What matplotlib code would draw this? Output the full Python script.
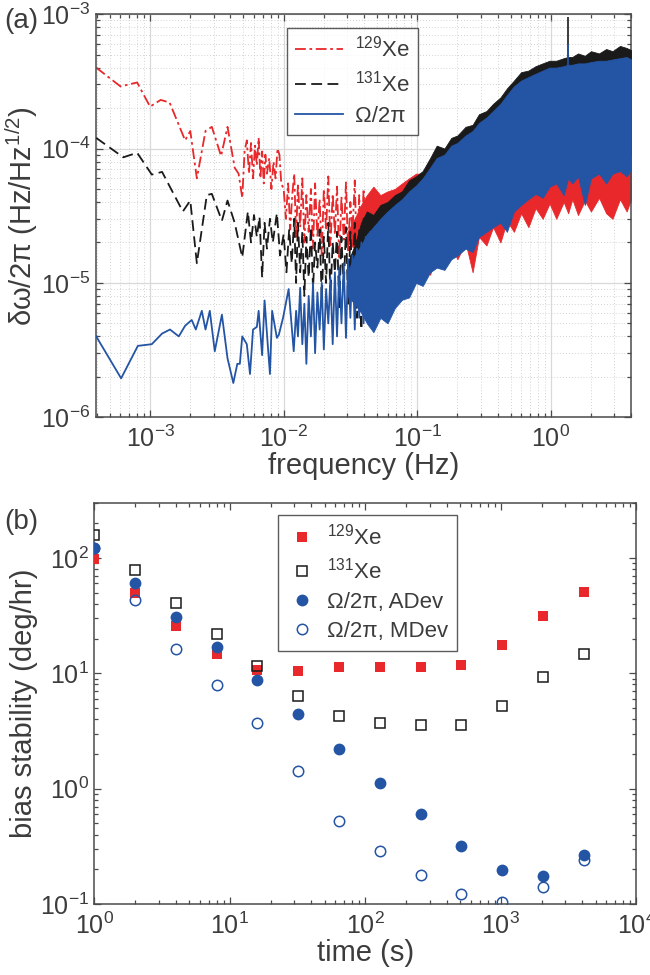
import numpy as np
import matplotlib
matplotlib.use('Agg')
import matplotlib.pyplot as plt
from matplotlib.ticker import LogLocator, NullFormatter

plt.rcParams['font.family'] = ['Liberation Sans', 'DejaVu Sans']
plt.rcParams['mathtext.fontset'] = 'custom'
plt.rcParams['mathtext.rm'] = 'Liberation Sans'
plt.rcParams['mathtext.it'] = 'Liberation Sans:italic'
plt.rcParams['mathtext.bf'] = 'Liberation Sans:bold'

RED = '#e8282b'
BLUE = '#2455a5'
BLK = '#1a1a1a'
TXT = '#3c3c3c'

# ---------------- panel (a): noise spectral density ----------------
# low-frequency part, read point by point
f_xe129 = [3.95e-4, 6.0e-4, 8.0e-4, 1.0e-3, 1.2e-3, 1.4e-3, 1.83e-3, 2.0e-3, 2.24e-3, 2.6e-3,
           2.9e-3, 3.4e-3, 3.8e-3, 4.3e-3, 4.6e-3, 4.9e-3, 5.1e-3, 5.3e-3, 5.5e-3, 5.7e-3,
           5.9e-3, 6.1e-3, 6.3e-3, 6.5e-3, 6.7e-3, 6.9e-3, 7.1e-3, 7.3e-3, 7.5e-3, 7.8e-3,
           8.1e-3, 8.4e-3, 8.7e-3, 9.0e-3, 9.3e-3, 9.6e-3, 1.0e-2, 1.04e-2, 1.08e-2, 1.12e-2,
           1.16e-2, 1.2e-2]
v_xe129 = [4.0e-4, 2.9e-4, 3.1e-4, 2.05e-4, 2.3e-4, 2.2e-4, 1.15e-4, 1.35e-4, 6.0e-5, 1.35e-4,
           1.45e-4, 8.8e-5, 1.45e-4, 7.2e-5, 6.5e-5, 4.3e-5, 9.5e-5, 1.15e-4, 6.5e-5, 1.1e-4,
           6.0e-5, 1.05e-4, 7.5e-5, 1.2e-4, 6.0e-5, 9.5e-5, 5.5e-5, 9.0e-5, 6.5e-5, 8.5e-5,
           5.0e-5, 8.0e-5, 6.0e-5, 1.0e-4, 9.0e-5, 5.5e-5, 5.0e-5, 3.0e-5, 5.5e-5, 2.5e-5,
           4.5e-5, 6.5e-5]

f_xe131 = [3.95e-4, 6.3e-4, 8.0e-4, 1.03e-3, 1.23e-3, 1.76e-3, 2.0e-3, 2.24e-3, 2.66e-3, 2.9e-3,
           3.45e-3, 3.8e-3, 4.3e-3, 4.9e-3, 5.4e-3, 5.7e-3, 6.0e-3, 6.3e-3, 6.6e-3, 6.9e-3,
           7.2e-3, 7.5e-3, 7.9e-3, 8.3e-3, 8.9e-3, 9.4e-3, 1.0e-2, 1.05e-2, 1.1e-2, 1.15e-2,
           1.2e-2]
v_xe131 = [1.2e-4, 8.6e-5, 9.3e-5, 6.4e-5, 6.7e-5, 3.4e-5, 4.1e-5, 1.4e-5, 4.5e-5, 4.6e-5,
           2.9e-5, 4.1e-5, 2.8e-5, 1.55e-5, 3.4e-5, 2.0e-5, 3.2e-5, 2.2e-5, 3.1e-5, 1.1e-5,
           2.8e-5, 1.8e-5, 3.0e-5, 2.0e-5, 3.3e-5, 1.6e-5, 2.3e-5, 1.2e-5, 2.5e-5, 1.4e-5,
           3.0e-5]

f_omega = [3.95e-4, 6.07e-4, 8.1e-4, 1.03e-3, 1.23e-3, 1.41e-3, 1.64e-3, 1.83e-3, 2.05e-3, 2.2e-3,
           2.44e-3, 2.6e-3, 2.8e-3, 3.05e-3, 3.45e-3, 3.8e-3, 4.2e-3, 4.5e-3, 4.7e-3, 4.9e-3,
           5.3e-3, 5.6e-3, 5.9e-3, 6.3e-3, 6.5e-3, 6.9e-3, 7.2e-3, 7.6e-3, 7.9e-3, 8.2e-3,
           8.9e-3, 9.2e-3, 9.9e-3, 1.09e-2, 1.19e-2]
v_omega = [4.0e-6, 1.95e-6, 3.4e-6, 3.5e-6, 4.2e-6, 4.5e-6, 4.0e-6, 4.8e-6, 5.3e-6, 4.5e-6,
           6.2e-6, 4.5e-6, 6.2e-6, 3.1e-6, 5.8e-6, 2.75e-6, 1.8e-6, 2.5e-6, 2.5e-6, 4.0e-6,
           3.5e-6, 2.1e-6, 4.5e-6, 4.7e-6, 6.2e-6, 2.9e-6, 7.4e-6, 3.5e-6, 2.1e-6, 6.2e-6,
           3.9e-6, 4.1e-6, 5.5e-6, 9.0e-6, 3.1e-6]

# transition region 0.012 - 0.05 Hz, where the traces turn into dense noise
f_mid = [1.24e-2, 1.28e-2, 1.33e-2, 1.38e-2, 1.43e-2, 1.48e-2, 1.54e-2, 1.60e-2, 1.66e-2, 1.72e-2,
         1.79e-2, 1.86e-2, 1.93e-2, 2.00e-2, 2.08e-2, 2.16e-2, 2.24e-2, 2.33e-2, 2.42e-2, 2.51e-2,
         2.61e-2, 2.71e-2, 2.82e-2, 2.93e-2, 3.04e-2, 3.16e-2, 3.28e-2, 3.41e-2, 3.54e-2, 3.68e-2,
         3.82e-2, 3.97e-2, 4.12e-2, 4.28e-2, 4.45e-2, 4.62e-2, 4.80e-2, 5.00e-2]
v_xe129_mid = [2.2e-5, 5.5e-5, 2.6e-5, 6.0e-5, 2.0e-5, 4.5e-5, 2.4e-5, 5.0e-5, 1.8e-5, 5.5e-5,
               2.2e-5, 4.2e-5, 1.6e-5, 5.0e-5, 2.5e-5, 6.2e-5, 1.9e-5, 4.6e-5, 2.3e-5, 5.2e-5,
               1.5e-5, 4.4e-5, 2.1e-5, 5.6e-5, 1.7e-5, 4.0e-5, 2.4e-5, 5.8e-5, 1.4e-5, 4.5e-5,
               1.9e-5, 5.0e-5, 1.3e-5, 4.2e-5, 1.8e-5, 4.8e-5, 1.4e-5, 4.0e-5]
v_xe131_mid = [1.0e-5, 2.8e-5, 1.2e-5, 2.4e-5, 8.0e-6, 2.2e-5, 1.1e-5, 2.6e-5, 9.0e-6, 2.0e-5,
               1.3e-5, 2.5e-5, 7.5e-6, 2.2e-5, 1.0e-5, 2.8e-5, 8.0e-6, 2.0e-5, 1.2e-5, 2.4e-5,
               6.5e-6, 2.2e-5, 9.0e-6, 2.6e-5, 7.0e-6, 2.4e-5, 1.0e-5, 2.8e-5, 5.5e-6, 2.5e-5,
               4.5e-6, 3.0e-5, 8.0e-6, 3.2e-5, 9.0e-6, 3.0e-5, 1.0e-5, 3.4e-5]
v_omega_mid = [6.2e-6, 4.0e-6, 9.2e-6, 3.5e-6, 7.0e-6, 2.5e-6, 8.0e-6, 4.0e-6, 1.0e-5, 3.0e-6,
               8.5e-6, 4.5e-6, 1.0e-5, 3.2e-6, 9.0e-6, 5.0e-6, 1.1e-5, 3.5e-6, 1.2e-5, 4.0e-6,
               1.3e-5, 5.0e-6, 1.4e-5, 3.9e-6, 1.5e-5, 5.5e-6, 1.6e-5, 4.5e-6, 1.8e-5, 5.5e-6,
               2.0e-5, 5.0e-6, 2.2e-5, 6.0e-6, 2.4e-5, 5.5e-6, 2.6e-5, 6.5e-6]

# dense high-frequency part: envelopes of the noise band
f_band = [0.030, 0.034, 0.038, 0.042, 0.047, 0.053, 0.060, 0.068, 0.077, 0.087,
          0.098, 0.11, 0.125, 0.14, 0.16, 0.18, 0.20, 0.23, 0.26, 0.29,
          0.33, 0.37, 0.42, 0.47, 0.53, 0.60, 0.68, 0.77, 0.87, 0.98,
          1.1, 1.25, 1.35, 1.45, 1.6, 1.8, 2.0, 2.3, 2.6, 2.9,
          3.3, 3.7, 4.0]
xe129_hi = [2.4e-5, 3.0e-5, 3.8e-5, 4.5e-5, 5.2e-5, 4.5e-5, 4.8e-5, 5.0e-5, 5.5e-5, 6.0e-5,
            6.5e-5, 6.5e-5, 7.0e-5, 7.0e-5, 7.0e-5, 7.5e-5, 7.5e-5, 8.0e-5, 7.5e-5, 8.0e-5,
            8.0e-5, 8.5e-5, 8.0e-5, 8.5e-5, 8.5e-5, 8.0e-5, 8.5e-5, 8.5e-5, 8.0e-5, 8.5e-5,
            8.5e-5, 8.0e-5, 8.5e-5, 8.5e-5, 8.0e-5, 8.5e-5, 8.5e-5, 8.0e-5, 8.5e-5, 8.5e-5,
            8.0e-5, 8.5e-5, 8.5e-5]
xe129_lo = [2.0e-5, 1.8e-5, 1.6e-5, 1.6e-5, 2.4e-5, 1.5e-5, 2.2e-5, 1.3e-5, 8.5e-6, 1.5e-5,
            1.1e-5, 1.6e-5, 1.15e-5, 1.7e-5, 1.3e-5, 1.9e-5, 1.5e-5, 2.0e-5, 1.2e-5, 2.2e-5,
            1.9e-5, 2.6e-5, 2.0e-5, 2.9e-5, 2.4e-5, 3.3e-5, 2.6e-5, 3.6e-5, 3.0e-5, 3.9e-5,
            3.0e-5, 4.0e-5, 3.3e-5, 4.2e-5, 3.2e-5, 4.1e-5, 3.4e-5, 4.3e-5, 3.3e-5, 3.0e-5,
            4.2e-5, 3.4e-5, 4.2e-5]
xe131_hi = [1.4e-5, 1.9e-5, 2.8e-5, 3.4e-5, 3.2e-5, 3.8e-5, 4.0e-5, 4.5e-5, 4.8e-5, 5.8e-5,
            6.2e-5, 6.8e-5, 8.5e-5, 1.05e-4, 1.0e-4, 1.2e-4, 1.25e-4, 1.45e-4, 1.5e-4, 1.8e-4,
            1.9e-4, 2.15e-4, 2.4e-4, 2.8e-4, 3.2e-4, 3.7e-4, 3.8e-4, 4.1e-4, 4.3e-4, 4.5e-4,
            4.5e-4, 4.7e-4, 4.8e-4, 4.8e-4, 5.1e-4, 4.9e-4, 5.3e-4, 5.1e-4, 5.5e-4, 5.3e-4,
            5.8e-4, 5.6e-4, 5.4e-4]
xe131_lo = [1.1e-5, 9.0e-6, 7.0e-6, 6.5e-6, 7.0e-6, 8.0e-6, 9.0e-6, 9.0e-6, 1.0e-5, 1.1e-5,
            1.3e-5, 1.3e-5, 1.5e-5, 1.7e-5, 1.7e-5, 2.0e-5, 2.1e-5, 2.4e-5, 2.3e-5, 2.9e-5,
            3.1e-5, 3.4e-5, 3.6e-5, 3.3e-5, 4.4e-5, 4.9e-5, 5.4e-5, 6.0e-5, 5.6e-5, 6.7e-5,
            7.0e-5, 6.0e-5, 7.7e-5, 7.0e-5, 8.0e-5, 5.0e-5, 7.7e-5, 8.4e-5, 7.2e-5, 8.4e-5,
            8.8e-5, 8.0e-5, 9.0e-5]
omega_hi = [1.2e-5, 1.6e-5, 1.9e-5, 2.3e-5, 2.6e-5, 3.0e-5, 3.4e-5, 3.8e-5, 4.2e-5, 4.8e-5,
            5.3e-5, 6.0e-5, 7.2e-5, 8.5e-5, 9.0e-5, 1.05e-4, 1.1e-4, 1.25e-4, 1.35e-4, 1.55e-4,
            1.7e-4, 1.9e-4, 2.15e-4, 2.5e-4, 2.9e-4, 3.2e-4, 3.4e-4, 3.6e-4, 3.8e-4, 4.0e-4,
            4.0e-4, 4.1e-4, 4.2e-4, 4.2e-4, 4.3e-4, 4.3e-4, 4.4e-4, 4.5e-4, 4.5e-4, 4.6e-4,
            4.7e-4, 4.8e-4, 4.6e-4]
omega_lo = [8.0e-6, 7.0e-6, 6.0e-6, 5.0e-6, 4.3e-6, 5.5e-6, 5.0e-6, 6.5e-6, 7.5e-6, 7.8e-6,
            1.0e-5, 9.5e-6, 1.2e-5, 1.3e-5, 1.25e-5, 1.5e-5, 1.6e-5, 1.8e-5, 1.7e-5, 2.2e-5,
            2.4e-5, 2.6e-5, 2.8e-5, 2.4e-5, 3.4e-5, 3.8e-5, 4.2e-5, 4.6e-5, 4.3e-5, 5.2e-5,
            5.5e-5, 4.5e-5, 6.0e-5, 5.5e-5, 6.2e-5, 3.8e-5, 6.0e-5, 6.5e-5, 5.5e-5, 6.5e-5,
            6.8e-5, 6.2e-5, 7.0e-5]

# narrow spike near 1.35 Hz
f_spike = 1.34
xe131_spike = 9.5e-4
omega_spike = 6.0e-4

# ---------------- panel (b): bias stability ----------------
tau = [1, 2, 4, 8, 16, 32, 64, 128, 256, 512, 1024, 2048, 4096]
bs_xe129 = [97, 50, 25.7, 14.7, 10.7, 10.4, 11.3, 11.4, 11.4, 11.8, 17.6, 31.4, 50.7]
bs_xe131 = [158, 79, 41, 22, 11.5, 6.3, 4.3, 3.7, 3.55, 3.55, 5.2, 9.3, 14.7]
bs_adev = [122, 60, 31, 17, 8.8, 4.4, 2.2, 1.12, 0.60, 0.32, 0.198, 0.175, 0.265]
bs_mdev = [122, 43, 16.2, 7.9, 3.7, 1.42, 0.52, 0.29, 0.18, 0.122, 0.105, 0.14, 0.24]


def style_axes(ax):
    ax.tick_params(which='both', direction='in', top=True, right=True,
                   colors='#4a4a4a', labelcolor=TXT, labelsize=18, width=0.9)
    ax.tick_params(which='major', length=5, pad=4)
    ax.tick_params(which='minor', length=3)
    ax.tick_params(axis='x', which='major', pad=6)
    for s in ax.spines.values():
        s.set_color('#4a4a4a')
        s.set_linewidth(1.1)


fig = plt.figure(figsize=(6.5, 9.75), dpi=100)

ax1 = fig.add_axes([0.148, 0.572, 0.823, 0.4135])
ax1.set_xscale('log')
ax1.set_yscale('log')

ax1.fill_between(f_band, xe129_lo, xe129_hi, color=RED, lw=0.6, zorder=2)
ax1.plot(f_xe129 + f_mid, v_xe129 + v_xe129_mid, color=RED, lw=1.3,
         dashes=(6, 2, 1.5, 2), zorder=2, label='$^{129}$Xe')
ax1.fill_between(f_band, xe131_lo, xe131_hi, color=BLK, lw=0.6, zorder=3)
ax1.plot(f_xe131 + f_mid, v_xe131 + v_xe131_mid, color=BLK, lw=1.3,
         dashes=(6, 3), zorder=3, label='$^{131}$Xe')
ax1.vlines(f_spike, 4.5e-4, xe131_spike, color=BLK, lw=1.2, zorder=3)
ax1.fill_between(f_band, omega_lo, omega_hi, color=BLUE, lw=0.6, zorder=4)
ax1.plot(f_omega + f_mid, v_omega + v_omega_mid, color=BLUE, lw=1.3, zorder=4,
         label='Ω/2π')
ax1.vlines(f_spike, 4.0e-4, omega_spike, color=BLUE, lw=1.2, zorder=4)

ax1.set_xlim(3.95e-4, 4.0)
ax1.set_ylim(1e-6, 1e-3)
ax1.xaxis.set_major_locator(LogLocator(base=10, numticks=10))
ax1.xaxis.set_minor_locator(LogLocator(base=10, subs=np.arange(2, 10), numticks=20))
ax1.xaxis.set_minor_formatter(NullFormatter())
ax1.yaxis.set_minor_formatter(NullFormatter())
ax1.set_axisbelow(True)
ax1.grid(True, which='major', color='#d9d9d9', lw=0.9, ls='-')
ax1.grid(True, which='minor', color='#c4c4c4', lw=0.6, ls=(0, (1, 2.5)))
style_axes(ax1)
ax1.set_xlabel('frequency (Hz)', fontsize=21, color=TXT, labelpad=0)
ax1.set_ylabel('δω/2π (Hz/Hz$^{1/2}$)', fontsize=21, color=TXT, labelpad=1)

leg1 = ax1.legend(loc='upper left', bbox_to_anchor=(0.4415, 0.9713), bbox_transform=fig.transFigure,
                  fontsize=16, frameon=True, fancybox=False, edgecolor='#333333',
                  handlelength=2.15, handletextpad=0.55, borderpad=0.35, labelspacing=0.42,
                  borderaxespad=0)
leg1.get_frame().set_linewidth(1.0)
for t in leg1.get_texts():
    t.set_color(TXT)

fig.text(0.006, 0.992, '(a)', fontsize=20, color=TXT, va='top')

# ---------------- panel (b) ----------------
ax2 = fig.add_axes([0.145, 0.0728, 0.834, 0.4115])
ax2.set_xscale('log')
ax2.set_yscale('log')
ax2.plot(tau, bs_xe129, ls='none', marker='s', ms=7, mfc=RED, mec=RED, mew=0,
         label='$^{129}$Xe', zorder=3)
ax2.plot(tau, bs_xe131, ls='none', marker='s', ms=6.5, mfc='none', mec=BLK, mew=1.1,
         label='$^{131}$Xe', zorder=3)
ax2.plot(tau, bs_adev, ls='none', marker='o', ms=8.5, mfc=BLUE, mec=BLUE, mew=0,
         label='Ω/2π, ADev', zorder=4)
ax2.plot(tau, bs_mdev, ls='none', marker='o', ms=7.5, mfc='none', mec=BLUE, mew=1.1,
         label='Ω/2π, MDev', zorder=4)
ax2.set_xlim(1, 1e4)
ax2.set_ylim(0.1, 300)
ax2.xaxis.set_minor_locator(LogLocator(base=10, subs=np.arange(2, 10), numticks=20))
ax2.xaxis.set_minor_formatter(NullFormatter())
ax2.yaxis.set_minor_formatter(NullFormatter())
style_axes(ax2)
ax2.set_xlabel('time (s)', fontsize=21, color=TXT, labelpad=0)
ax2.set_ylabel('bias stability (deg/hr)', fontsize=21, color=TXT, labelpad=1)

leg2 = ax2.legend(loc='upper left', bbox_to_anchor=(0.4277, 0.4718), bbox_transform=fig.transFigure,
                  fontsize=16, frameon=True, fancybox=False, edgecolor='#333333',
                  handlelength=1.4, handletextpad=0.4, borderpad=0.4, labelspacing=0.36,
                  borderaxespad=0)
leg2.get_frame().set_linewidth(1.0)
for t in leg2.get_texts():
    t.set_color(TXT)

fig.text(0.006, 0.478, '(b)', fontsize=20, color=TXT, va='top')

fig.savefig('out.png', dpi=100)
